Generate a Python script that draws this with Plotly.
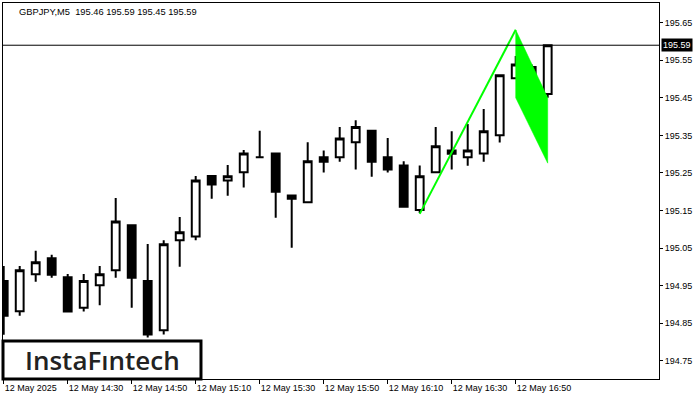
import plotly.graph_objects as go

# ---- data (GBPJPY, M5, 12 May 2025) ----
times = ["14:10", "14:15", "14:20", "14:25", "14:30", "14:35", "14:40", "14:45",
         "14:50", "14:55", "15:00", "15:05", "15:10", "15:15", "15:20", "15:25",
         "15:30", "15:35", "15:40", "15:45", "15:50", "15:55", "16:00", "16:05",
         "16:10", "16:15", "16:20", "16:25", "16:30", "16:35", "16:40", "16:45",
         "16:50", "16:55", "17:00"]
open_ = [194.962, 194.882, 194.980, 195.023, 194.972, 194.891, 194.951, 194.991,
         195.111, 194.962, 194.831, 195.071, 195.081, 195.242, 195.230, 195.252,
         195.292, 195.302, 195.190, 195.172, 195.292, 195.292, 195.332, 195.362,
         195.292, 195.270, 195.151, 195.252, 195.310, 195.292, 195.302, 195.350,
         195.502, 195.532, 195.460]
high = [195.002, 195.002, 195.043, 195.032, 194.981, 194.981, 195.002, 195.183,
        195.111, 195.061, 195.071, 195.133, 195.242, 195.242, 195.271, 195.311,
        195.362, 195.302, 195.190, 195.332, 195.310, 195.372, 195.390, 195.362,
        195.343, 195.281, 195.270, 195.372, 195.361, 195.380, 195.420, 195.510,
        195.561, 195.539, 195.590]
low = [194.819, 194.870, 194.960, 194.971, 194.881, 194.881, 194.898, 194.971,
       194.891, 194.812, 194.820, 195.000, 195.071, 195.181, 195.189, 195.211,
       195.292, 195.131, 195.051, 195.172, 195.251, 195.280, 195.259, 195.240,
       195.251, 195.160, 195.143, 195.252, 195.259, 195.269, 195.280, 195.331,
       195.502, 195.418, 195.450]
close = [194.870, 194.991, 195.012, 194.979, 194.881, 194.962, 194.980, 195.121,
         194.971, 194.820, 195.060, 195.092, 195.230, 195.219, 195.241, 195.302,
         195.292, 195.200, 195.181, 195.281, 195.280, 195.342, 195.372, 195.280,
         195.259, 195.160, 195.241, 195.321, 195.301, 195.310, 195.361, 195.510,
         195.539, 195.450, 195.590]

# bullish flag pattern (bar index, price)
pole_bars = [26, 32]
pole_prices = [195.141, 195.631]
flag_bars = [32, 34, 34, 32, 32]
flag_prices = [195.631, 195.450, 195.276, 195.450, 195.631]

last_price = 195.59
title_text = "GBPJPY,M5  195.46 195.59 195.45 195.59"

tick_bars = [0, 4, 8, 12, 16, 20, 24, 28, 32]
tick_labels = ["12 May 2025", "12 May 14:30", "12 May 14:50", "12 May 15:10",
               "12 May 15:30", "12 May 15:50", "12 May 16:10", "12 May 16:30",
               "12 May 16:50"]
price_ticks = [194.75, 194.85, 194.95, 195.05, 195.15, 195.25, 195.35, 195.45,
               195.55, 195.65]

x = list(range(len(times)))
FONT = "Liberation Sans"

fig = go.Figure()

fig.add_trace(go.Scatter(
    x=flag_bars, y=flag_prices, mode="lines", fill="toself",
    fillcolor="#00FF00", line=dict(color="#00FF00", width=0.5),
    hoverinfo="skip", showlegend=False))
fig.add_trace(go.Scatter(
    x=pole_bars, y=pole_prices, mode="lines",
    line=dict(color="#00FF00", width=2),
    hoverinfo="skip", showlegend=False))

fig.add_trace(go.Candlestick(
    x=x, open=open_, high=high, low=low, close=close,
    text=times,
    increasing=dict(fillcolor="#FFFFFF", line=dict(color="#000000", width=2)),
    decreasing=dict(fillcolor="#000000", line=dict(color="#000000", width=2)),
    whiskerwidth=0, showlegend=False))

# current price line
fig.add_shape(type="line", xref="paper", x0=0, x1=1, yref="y",
              y0=last_price, y1=last_price, line=dict(color="#000000", width=1))

# watermark box
fig.add_shape(type="rect", xref="paper", yref="paper", x0=0, x1=0.3018,
              y0=0, y1=0.101, line=dict(color="#000000", width=3),
              fillcolor="#FFFFFF", layer="above")
fig.add_annotation(xref="paper", yref="paper", x=0.151, y=0.0505,
                   text="InstaF\u0131ntech", showarrow=False,
                   font=dict(family="Open Sans", size=26, color="#222222",
                             weight=600),
                   xanchor="center", yanchor="middle")

# title
fig.add_annotation(xref="paper", yref="paper", x=0.0213, y=0.976,
                   text=title_text, showarrow=False,
                   font=dict(family=FONT, size=9.3, color="#000000"),
                   xanchor="left", yanchor="middle")

# price label on the axis
fig.add_annotation(xref="paper", yref="y", x=1, y=last_price,
                   text=f"{last_price:.2f}", showarrow=False,
                   xanchor="left", yanchor="middle", xshift=2,
                   bgcolor="#000000", borderpad=1,
                   font=dict(family=FONT, size=9, color="#FFFFFF"))

fig.update_layout(
    width=700, height=400,
    margin=dict(l=3, r=41, t=3, b=21),
    paper_bgcolor="#FFFFFF", plot_bgcolor="#FFFFFF",
    showlegend=False,
    xaxis=dict(range=[-0.044, 40.956], showgrid=False, zeroline=False,
               rangeslider=dict(visible=False),
               showline=True, mirror=True, linecolor="#000000", linewidth=1,
               tickmode="array", tickvals=tick_bars, ticktext=tick_labels,
               ticks="outside", ticklen=4, tickcolor="#000000", tickwidth=1,
               ticklabelposition="outside right",
               tickfont=dict(family=FONT, size=9, color="#000000")),
    yaxis=dict(range=[194.7014, 195.7024], side="right", showgrid=False,
               zeroline=False, showline=True, mirror=True,
               linecolor="#000000", linewidth=1,
               tickmode="array", tickvals=price_ticks,
               ticktext=[f"{v:.2f}" for v in price_ticks],
               ticks="outside", ticklen=3, tickcolor="#000000", tickwidth=1,
               tickfont=dict(family=FONT, size=9, color="#000000")),
)

fig.write_html("out.html",
               config={"displayModeBar": False},
               post_script="document.body.style.margin='0';"
                           "document.body.style.overflow='hidden';")
